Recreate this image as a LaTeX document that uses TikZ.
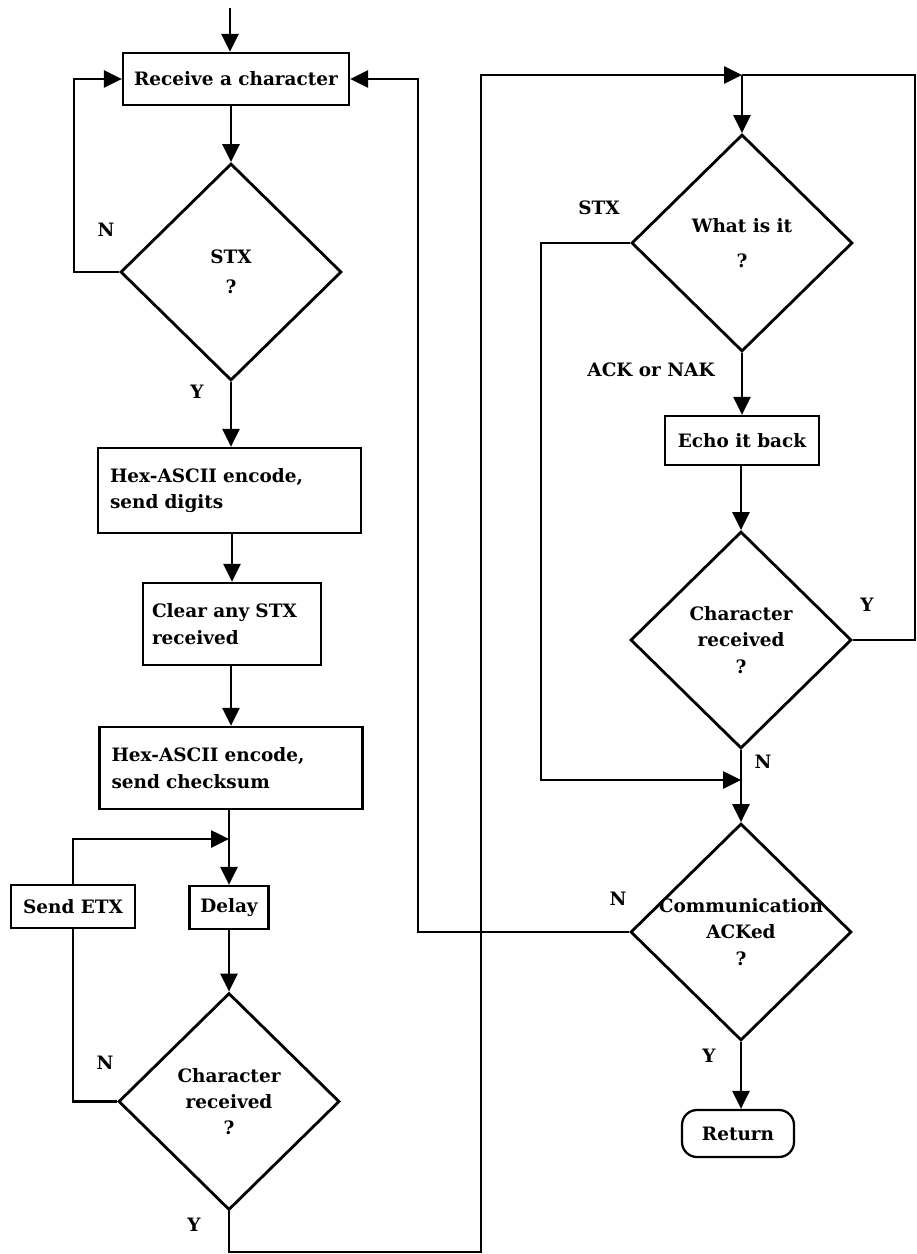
\documentclass[tikz,border=0pt]{standalone}
\usepackage{fontspec}
\setmainfont{DejaVu Serif}
\usetikzlibrary{shapes.geometric,arrows.meta}
\pgfdeclarelayer{bg}
\pgfsetlayers{bg,main}

\begin{document}
\begin{tikzpicture}[x=0.02cm,y=-0.02cm,
        every node/.style={font=\fontsize{10.5}{15}\selectfont\bfseries},
        proc/.style={draw, line width=1.3pt, fill=white, inner sep=0pt, align=center},
        para/.style={proc, align=left, inner xsep=#1},
        dec/.style={draw, diamond, line width=1.6pt, fill=white, inner sep=-8pt,
                minimum width=4.42cm, minimum height=4.34cm, align=center},
        term/.style={proc, rounded corners=0.3cm},
        arr/.style={line width=1.5pt, -{Triangle[length=0.36cm,width=0.34cm]}},
        ln/.style={line width=1.5pt}]
        \useasboundingbox (0,0) rectangle (916,1254);
        % left column
        \node (recv) [proc, minimum width=4.52cm, minimum height=1.04cm] at (236,79) {Receive a character};
        \node (stx) [dec] at (231,272) {STX\\[2pt]?};
        \node (hex1) [para=0.24cm, text width=4.78cm, minimum height=1.7cm] at (229.5,490.5) {Hex-ASCII encode,\\send digits};
        \node (clr) [para=0.18cm, text width=3.2cm, minimum height=1.64cm] at (232,624) {Clear any STX\\received};
        \node (hex2) [para=0.24cm, text width=4.78cm, minimum height=1.64cm] at (231,768) {Hex-ASCII encode,\\send checksum};
        \node (etx) [proc, minimum width=2.48cm, minimum height=0.86cm] at (73,906.5) {Send ETX};
        \node (dly) [proc, minimum width=1.58cm, minimum height=0.86cm] at (229,907.5) {Delay};
        \node (chr1) [dec] at (229,1101.5) {Character\\received\\?};
        % right column
        \node (what) [dec] at (742,243) {What is it\\[5pt]?};
        \node (echo) [proc, minimum width=3.08cm, minimum height=0.98cm] at (742,440.5) {Echo it back};
        \node (chr2) [dec] at (741,640) {Character\\received\\?};
        \node (comm) [dec] at (741,932) {Communication\\ACKed\\?};
        \node (ret) [term, minimum width=2.24cm, minimum height=0.94cm] at (738,1133.5) {Return};
        % branch labels
        \node (n1) at (106,230) {N};
        \node (y1) at (197,392) {Y};
        \node (n2) at (105,1063) {N};
        \node (y2) at (194,1225) {Y};
        \node (s3) at (599,208) {STX};
        \node (a3) at (651,370) {ACK or NAK};
        \node (y4) at (867,605) {Y};
        \node (n4) at (763,762) {N};
        \node (n5) at (618,899) {N};
        \node (y5) at (709,1056) {Y};
        % free ends
        \coordinate (start) at (230,8);
        \coordinate (j1) at (229,839);
        \coordinate (bl) at (481,1252);
        \coordinate (jtop) at (742,75);
        \coordinate (tr) at (915,75);
        \coordinate (j2) at (741,780);
        \begin{pgfonlayer}{bg}
                \draw [arr] (start) -- (start |- recv.north);
                \draw [arr] (stx |- recv.south) -- (stx.north);
                \draw [arr] (stx.west) -- ++(-45,0) |- (recv.west);
                \draw [arr] (stx.south) -- (stx.south |- hex1.north);
                \draw [arr] (clr |- hex1.south) -- (clr.north);
                \draw [arr] (hex2 |- clr.south) -- (hex2.north);
                \draw [arr] (dly |- hex2.south) -- (dly.north);
                \draw [ln] (chr1.west) -| (etx.south);
                \draw [arr] (etx.north) |- (j1);
                \draw [arr] (dly.south) -- (chr1.north);
                \draw [arr] (chr1.south) |- (bl) |- (jtop);
                \draw [ln] (chr2.east) -| (tr) -- (jtop);
                \draw [arr] (jtop) -- (what.north);
                \draw [arr] (what.west) -- ++(-89,0) |- (j2);
                \draw [arr] (what.south) -- (what.south |- echo.north);
                \draw [arr] (chr2 |- echo.south) -- (chr2.north);
                \draw [arr] (chr2.south) -- (comm.north);
                \draw [arr] (comm.west) -- ++(-211,0) |- (recv.east);
                \draw [arr] (comm.south) -- (comm.south |- ret.north);
        \end{pgfonlayer}
\end{tikzpicture}
\end{document}
